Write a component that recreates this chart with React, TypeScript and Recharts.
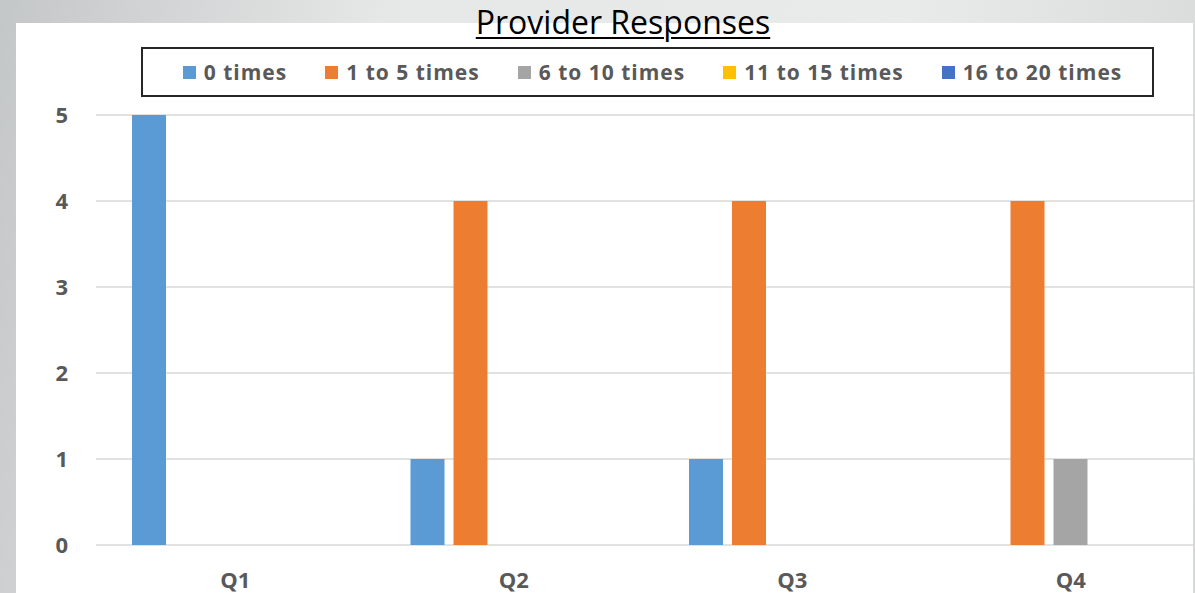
import React from 'react';
import { BarChart, Bar, XAxis, YAxis, CartesianGrid } from 'recharts';

const quarters = ['Q1', 'Q2', 'Q3', 'Q4'];
const seriesNames = ['0 times', '1 to 5 times', '6 to 10 times', '11 to 15 times', '16 to 20 times'];
const seriesColors = ['#5b9bd5', '#ed7d31', '#a5a5a5', '#ffc000', '#4472c4'];
const zeroTimes = [5, 1, 1, 0];
const oneToFive = [0, 4, 4, 4];
const sixToTen = [0, 0, 0, 1];
const elevenToFifteen = [0, 0, 0, 0];
const sixteenToTwenty = [0, 0, 0, 0];
const yTicks = [0, 1, 2, 3, 4, 5];

const seriesValues = [zeroTimes, oneToFive, sixToTen, elevenToFifteen, sixteenToTwenty];
const data = quarters.map((q, i) => {
  const row: Record<string, string | number> = { name: q };
  seriesNames.forEach((s, j) => {
    row[s] = seriesValues[j][i];
  });
  return row;
});

const font = '"Open Sans", Lato, sans-serif';
const labelColor = '#595959';

const App: React.FC = () => (
  <div
    style={{
      position: 'absolute',
      left: 0,
      top: 0,
      width: 1195,
      height: 593,
      overflow: 'hidden',
      background: 'linear-gradient(100deg, #c4c7c8 0%, #e6e7e7 30%, #e9eaea 70%, #d6d8d8 100%)',
      fontFamily: font
    }}
  >
    {/* white chart panel */}
    <div style={{ position: 'absolute', left: 16, top: 23, width: 1177, height: 600, background: '#fff' }} />

    {/* title */}
    <div
      style={{
        position: 'absolute',
        left: 0,
        top: 2,
        width: 1246,
        textAlign: 'center',
        fontSize: 32,
        color: '#000',
        textDecoration: 'underline',
        textUnderlineOffset: 3,
        textDecorationThickness: 2,
        lineHeight: '40px'
      }}
    >
      Provider Responses
    </div>

    {/* legend */}
    <div
      style={{
        position: 'absolute',
        left: 141,
        top: 47,
        width: 1013,
        height: 50,
        boxSizing: 'border-box',
        border: '2px solid #262626',
        display: 'flex',
        justifyContent: 'center',
        alignItems: 'center',
        gap: 38,
        paddingLeft: 10
      }}
    >
      {seriesNames.map((s, i) => (
        <div key={s} style={{ display: 'flex', alignItems: 'center', gap: 8 }}>
          <div style={{ width: 13, height: 13, background: seriesColors[i] }} />
          <span style={{ fontSize: 21, fontWeight: 700, color: labelColor, letterSpacing: 1 }}>{s}</span>
        </div>
      ))}
    </div>

    <div style={{ position: 'absolute', left: 0, top: 0 }}>
      <BarChart
        width={1240}
        height={593}
        data={data}
        margin={{ top: 115, right: 30, bottom: 0, left: 0 }}
        barCategoryGap={36}
        barGap={9}
      >
        <CartesianGrid vertical={false} stroke="#d9d9d9" strokeWidth={1.5} />
        <XAxis
          dataKey="name"
          height={48}
          axisLine={false}
          tickLine={false}
          tickSize={0}
          tickMargin={27}
          tick={{ fill: labelColor, fontSize: 22, fontWeight: 700, fontFamily: font }}
        />
        <YAxis
          width={96}
          domain={[0, 5]}
          ticks={yTicks}
          axisLine={false}
          tickLine={false}
          tickSize={0}
          tickMargin={28}
          tick={{ fill: labelColor, fontSize: 22, fontWeight: 700, fontFamily: font }}
        />
        {seriesNames.map((s, i) => (
          <Bar key={s} dataKey={s} fill={seriesColors[i]} barSize={34} isAnimationActive={false} />
        ))}
      </BarChart>
    </div>
  </div>
);

export default App;
